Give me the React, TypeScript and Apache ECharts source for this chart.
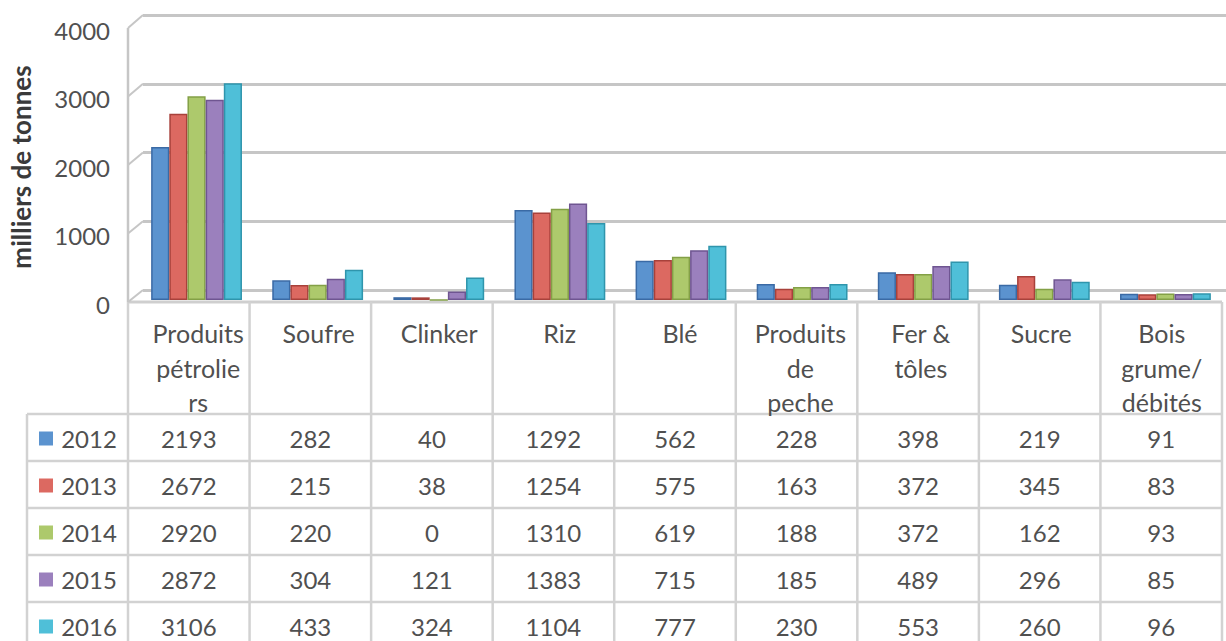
import React, { useEffect, useRef } from "react";
import * as echarts from "echarts";

const categories = [
  "Produits\npétrolie\nrs",
  "Soufre",
  "Clinker",
  "Riz",
  "Blé",
  "Produits\nde\npeche",
  "Fer &\ntôles",
  "Sucre",
  "Bois\ngrume/\ndébités",
];
const years = ["2012", "2013", "2014", "2015", "2016"];
const v2012 = [2193, 282, 40, 1292, 562, 228, 398, 219, 91];
const v2013 = [2672, 215, 38, 1254, 575, 163, 372, 345, 83];
const v2014 = [2920, 220, 0, 1310, 619, 188, 372, 162, 93];
const v2015 = [2872, 304, 121, 1383, 715, 185, 489, 296, 85];
const v2016 = [3106, 433, 324, 1104, 777, 230, 553, 260, 96];
const seriesValues = [v2012, v2013, v2014, v2015, v2016];
const yTicks = [0, 1000, 2000, 3000, 4000];
const yTitle = "milliers de tonnes";

const faceColors = ["#5b93cf", "#dc6961", "#adc96c", "#9b80bd", "#4fbfd8"];
const edgeColors = ["#3a6aa5", "#a8413b", "#83a046", "#6f5591", "#2f95ac"];

const FONT = "Lato, 'Open Sans', sans-serif";
const TEXT = "#505050";
const LINE = "#d2d2d2";

export default function App() {
  const ref = useRef<HTMLDivElement>(null);
  useEffect(() => {
    if (!ref.current) return;
    const chart = echarts.init(ref.current, undefined, { renderer: "svg" });
    const yMin = yTicks[0];
    const yMax = yTicks[yTicks.length - 1];
    const yInt = yTicks[1] - yTicks[0];
    chart.setOption({
      animation: false,
      backgroundColor: "#ffffff",
      textStyle: { fontFamily: FONT },
      grid: [
        { left: 128, top: 30, width: 1094, height: 274 },
        { left: 143, top: 15, width: 1083, height: 275 },
        { left: 136, top: 21, width: 1094, height: 279 },
      ],
      xAxis: [
        {
          gridIndex: 0,
          type: "category",
          data: categories,
          axisLine: { show: false },
          axisTick: { show: false },
          axisLabel: {
            interval: 0,
            margin: 12,
            fontSize: 25,
            lineHeight: 34.5,
            color: TEXT,
            fontFamily: FONT,
            align: "center",
          },
        },
        { gridIndex: 1, type: "category", data: categories, show: false },
        { gridIndex: 2, type: "category", data: categories, show: false },
      ],
      yAxis: [
        {
          gridIndex: 0,
          type: "value",
          min: yMin,
          max: yMax,
          interval: yInt,
          axisLine: { show: false },
          axisTick: { show: false },
          splitLine: { show: false },
          axisLabel: {
            margin: 28,
            fontSize: 24,
            color: TEXT,
            fontFamily: FONT,
            formatter: (v: number) => String(v),
          },
          name: yTitle,
          nameLocation: "middle",
          nameRotate: 90,
          nameGap: 104,
          nameTextStyle: { fontSize: 26, fontWeight: "bold", color: "#3a3a3a", fontFamily: FONT },
        },
        {
          gridIndex: 1,
          type: "value",
          min: yMin,
          max: yMax,
          interval: yInt,
          axisLine: { show: false },
          axisTick: { show: false },
          axisLabel: { show: false },
          splitLine: { show: true, lineStyle: { color: "#c6c6c6", width: 3 } },
        },
        {
          gridIndex: 2,
          type: "value",
          min: yMin,
          max: yMax,
          interval: yInt,
          show: false,
          splitLine: { show: false },
        },
      ],
      series: years.map((y, i) => ({
        name: y,
        type: "bar",
        xAxisIndex: 2,
        yAxisIndex: 2,
        data: seriesValues[i],
        barGap: "0%",
        barCategoryGap: "25%",
        itemStyle: { color: faceColors[i], borderColor: edgeColors[i], borderWidth: 1.5 },
      })),
    });

    const colLeft = 128;
    const nCols = categories.length;
    const colW = 1094 / nCols;
    const rowTop = 414;
    const rowH = 47;
    const legendLeft = 27;
    const g: any[] = [];
    yTicks.forEach((t) => {
      const yf = chart.convertToPixel({ yAxisIndex: 0 }, t) as number;
      const yb = chart.convertToPixel({ yAxisIndex: 1 }, t) as number;
      g.push({
        type: "line",
        shape: { x1: colLeft, y1: yf - 2, x2: 143, y2: yb },
        style: { stroke: "#c6c6c6", lineWidth: 2 },
        z: 1,
      });
    });
    const yFront0 = chart.convertToPixel({ yAxisIndex: 0 }, 0) as number;
    const yFrontTop = chart.convertToPixel({ yAxisIndex: 0 }, yMax) as number;
    g.push({
      type: "line",
      shape: { x1: colLeft, y1: yFrontTop - 2, x2: colLeft, y2: yFront0 - 2 },
      style: { stroke: "#c6c6c6", lineWidth: 2.5 },
    });
    g.push({
      type: "line",
      shape: { x1: colLeft, y1: yFront0 - 2, x2: colLeft + colW * nCols, y2: yFront0 - 2 },
      style: { stroke: "#cfcfcf", lineWidth: 3 },
    });
    for (let c = 0; c <= nCols; c++) {
      const x = colLeft + c * colW;
      g.push({
        type: "line",
        shape: { x1: x, y1: yFront0 - 2, x2: x, y2: 641 },
        style: { stroke: LINE, lineWidth: 2.5 },
      });
    }
    g.push({
      type: "line",
      shape: { x1: legendLeft, y1: rowTop, x2: legendLeft, y2: 641 },
      style: { stroke: LINE, lineWidth: 2.5 },
    });
    for (let r = 0; r < years.length; r++) {
      const y = rowTop + r * rowH;
      g.push({
        type: "line",
        shape: { x1: legendLeft, y1: y, x2: colLeft + colW * nCols, y2: y },
        style: { stroke: LINE, lineWidth: 2.5 },
      });
    }
    years.forEach((yr, r) => {
      const cy = rowTop + r * rowH + rowH / 2 + 1;
      g.push({
        type: "rect",
        shape: { x: 39, y: cy - 7, width: 14, height: 14 },
        style: { fill: faceColors[r] },
      });
      g.push({
        type: "text",
        x: 89,
        y: cy,
        style: {
          text: yr,
          fontSize: 24,
          fontFamily: FONT,
          fill: TEXT,
          align: "center",
          verticalAlign: "middle",
        },
      });
      seriesValues[r].forEach((v, c) => {
        g.push({
          type: "text",
          x: colLeft + c * colW + colW / 2,
          y: cy,
          style: {
            text: String(v),
            fontSize: 24,
            fontFamily: FONT,
            fill: TEXT,
            align: "center",
            verticalAlign: "middle",
          },
        });
      });
    });
    chart.setOption({ graphic: g });
    return () => chart.dispose();
  }, []);
  return (
    <div
      ref={ref}
      style={{ position: "fixed", left: 0, top: 0, width: 1226, height: 641, background: "#fff" }}
    />
  );
}
